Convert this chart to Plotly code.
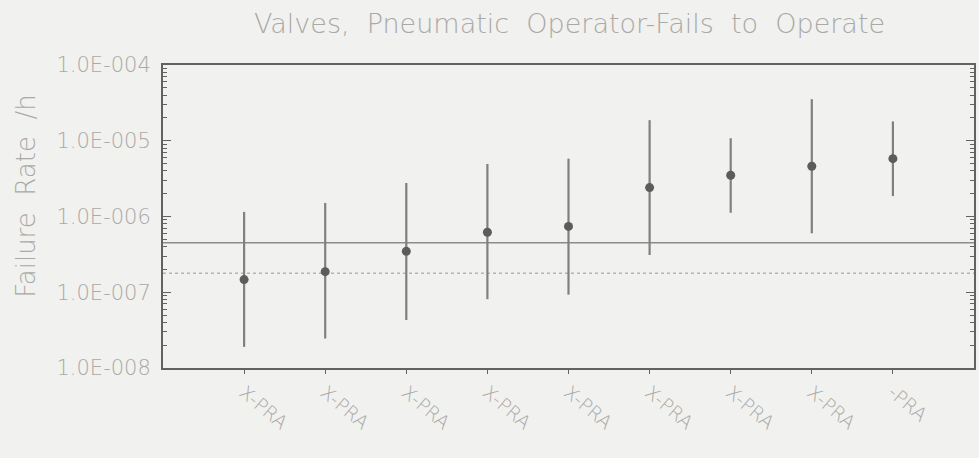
import plotly.graph_objects as go

# Failure-rate estimates per PRA source (per hour)
categories = ["X-PRA", "X-PRA", "X-PRA", "X-PRA", "X-PRA",
              "X-PRA", "X-PRA", "X-PRA", "-PRA"]
positions = [1, 2, 3, 4, 5, 6, 7, 8, 9]
mean_rate = [1.47e-7, 1.87e-7, 3.47e-7, 6.2e-7, 7.4e-7,
             2.41e-6, 3.5e-6, 4.6e-6, 5.8e-6]
upper_bound = [1.15e-6, 1.51e-6, 2.77e-6, 4.93e-6, 5.8e-6,
               1.87e-5, 1.08e-5, 3.54e-5, 1.8e-5]
lower_bound = [1.9e-8, 2.45e-8, 4.3e-8, 8.1e-8, 9.3e-8,
               3.1e-7, 1.12e-6, 6.0e-7, 1.86e-6]

# Reference lines across the plot
generic_mean = 4.5e-7
generic_median = 1.78e-7
x_span = [0, 10]

y_ticks = [1e-8, 1e-7, 1e-6, 1e-5, 1e-4]
y_tick_text = ["1.0E-008", "1.0E-007", "1.0E-006", "1.0E-005", "1.0E-004"]

text_grey = "#a9a9a7"
axis_grey = "#626262"
font_family = "'DejaVu Sans', Verdana, sans-serif"
NB = "\u00a0"
GAP = NB * 2

err_plus = [u - m for u, m in zip(upper_bound, mean_rate)]
err_minus = [m - l for m, l in zip(mean_rate, lower_bound)]

fig = go.Figure()

fig.add_trace(go.Scatter(
    x=x_span, y=[generic_mean, generic_mean], mode="lines",
    line=dict(color="#8c8c8c", width=1.5), hoverinfo="skip", showlegend=False))
fig.add_trace(go.Scatter(
    x=x_span, y=[generic_median, generic_median], mode="lines",
    line=dict(color="#b4b4b4", width=1.5, dash="dot"), hoverinfo="skip",
    showlegend=False))

fig.add_trace(go.Scatter(
    x=positions, y=mean_rate, mode="markers",
    marker=dict(color="#5c5c5c", size=9),
    error_y=dict(type="data", symmetric=False, array=err_plus,
                 arrayminus=err_minus, color="#808080", thickness=2.2, width=0),
    showlegend=False))

title_text = GAP.join(["Valves,", "Pneumatic", "Operator-Fails", "to", "Operate"])

fig.update_layout(
    width=979, height=458,
    margin=dict(l=163, r=3, t=65, b=90),
    paper_bgcolor="#f1f1ef", plot_bgcolor="#f1f1ef",
    font=dict(family=font_family, color=text_grey, size=14, weight=300),
    title=dict(text=title_text,
               x=(163 + 976) / 2 / 979, xanchor="center", y=1 - 24 / 458,
               yanchor="middle",
               font=dict(size=27, color=text_grey, family=font_family, weight=300)),
)

# Rotated axis title placed to the left of the tick labels
fig.add_annotation(
    text=GAP.join(["Failure", "Rate", "/h"]), textangle=-90,
    xref="paper", yref="paper", x=0, y=0.565, xanchor="center", yanchor="middle",
    xshift=26 - 163, showarrow=False,
    font=dict(size=26, color=text_grey, family=font_family, weight=300))

fig.update_xaxes(
    range=[0, 10], tickmode="array", tickvals=positions, ticktext=categories,
    tickangle=40, ticks="outside", ticklen=4, tickcolor=axis_grey,
    showline=True, linecolor=axis_grey, linewidth=2, mirror=True,
    showgrid=False, zeroline=False, tickfont=dict(size=19, color=text_grey))

fig.update_yaxes(
    type="log", range=[-8, -4], tickmode="array", tickvals=y_ticks,
    ticktext=y_tick_text, ticks="inside", ticklen=8, tickcolor=axis_grey,
    minor=dict(dtick="D1", ticks="inside", ticklen=4, tickcolor=axis_grey,
               showgrid=False),
    ticklabelstandoff=6,
    showline=True, linecolor=axis_grey, linewidth=2, mirror="allticks",
    showgrid=False, zeroline=False, tickfont=dict(size=21, color=text_grey))

fig.write_html("out.html")
